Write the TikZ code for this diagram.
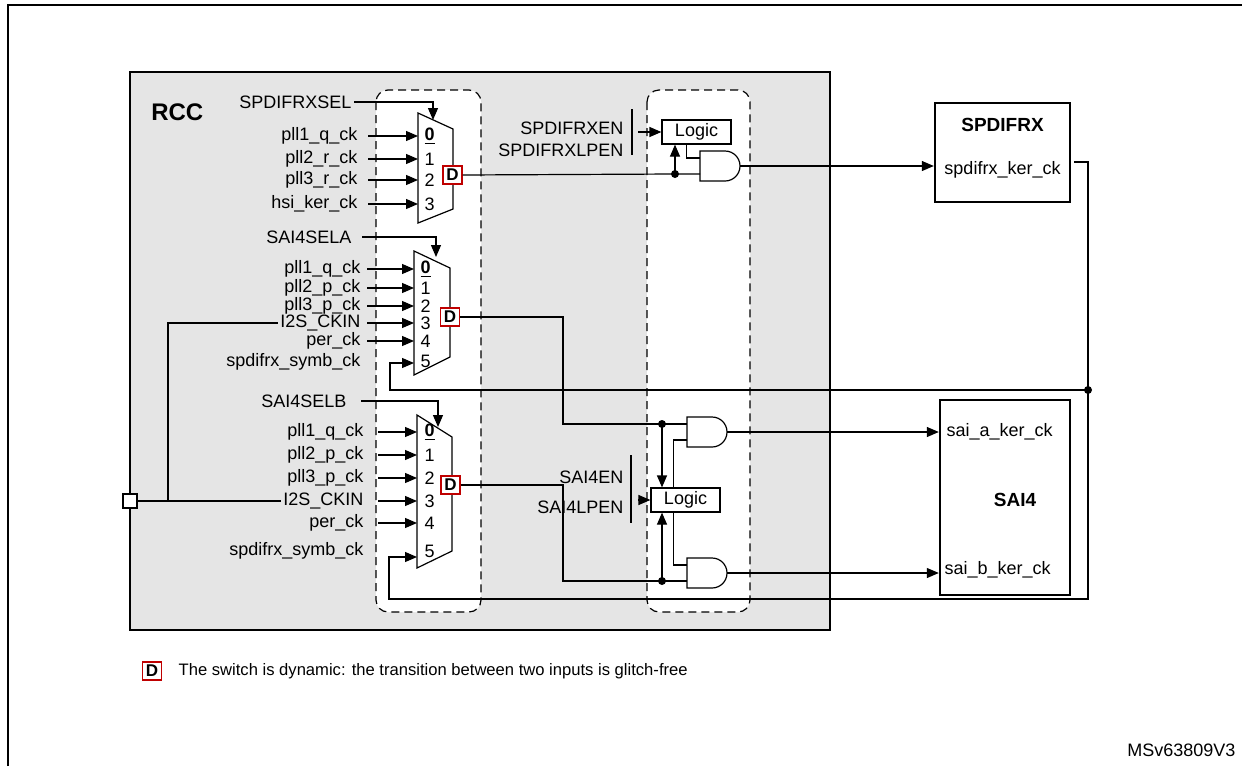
\documentclass[tikz,border=0pt]{standalone}
\usepackage{fontspec}
\setmainfont{Liberation Sans}
\usetikzlibrary{arrows.meta,positioning}
% AND gate: #1 left x, #2 centre y, #3 name
\newcommand{\andgate}[3]{%
  \draw[fill=white] (#1,#2-15) -- (#1+25,#2-15) .. controls (#1+33.3,#2-15) and (#1+40,#2-8.3) .. (#1+40,#2)
    .. controls (#1+40,#2+8.3) and (#1+33.3,#2+15) .. (#1+25,#2+15) -- (#1,#2+15) -- cycle;
  \coordinate (#3-out) at (#1+40,#2);
  \coordinate (#3-a) at (#1,#2-8);
  \coordinate (#3-b) at (#1,#2+8);}
\begin{document}
\begin{tikzpicture}[x=0.5pt, y=-0.5pt, font=\fontsize{9}{10}\selectfont, line width=0.6pt,
    lbl/.style={inner sep=1pt},
    sig/.style={-{Triangle[length=6pt,width=5pt]}},
    dyn/.style={draw=red!75!black, fill=white, font=\fontsize{8.5}{9}\selectfont\bfseries, inner sep=0pt, minimum width=9.5pt, minimum height=9pt},
    blk/.style={draw, line width=1.2pt, fill=white},
    logic/.style={draw, fill=white, minimum width=34.5pt, minimum height=12pt, inner sep=0pt},
    dashbox/.style={draw=black, dashed, dash pattern=on 4pt off 2.5pt, rounded corners=6pt, fill=white}]
\useasboundingbox (0,0) rectangle (1242,766);
\draw[line width=1pt] (8,766) -- (8,5) -- (1242,5);

% RCC block
\draw[line width=1.2pt, fill=black!10] (130,72) rectangle (830,630);
\node[font=\fontsize{12}{13}\selectfont\bfseries, anchor=west] (rcc) at (144,112) {RCC};
\draw[dashbox] (376,90) rectangle (481,612);
\draw[dashbox] (647,90) rectangle (750,612);

% mux SPDIFRX
\draw[fill=white] (418,113) -- (453,129) -- (453,209) -- (418,223) -- cycle;
\foreach \y/\t/\n [count=\k from 0] in {136/pll1\_q\_ck/\underline{\textbf{0}}, 159/pll2\_r\_ck/1, 180/pll3\_r\_ck/2, 204/hsi\_ker\_ck/3} {
  \node[lbl, anchor=east] (a\k) at (360,\y) {\t};
  \coordinate (ai\k) at (418,\y);
  \draw[sig, shorten <=4pt] (a\k.east) -- (ai\k);
  \node[lbl, anchor=west] at (422,\y) {\n};
}
\node[lbl, anchor=east] (sel1) at (354,102) {SPDIFRXSEL};
\coordinate (m1s) at (433,120);
\draw[sig] (sel1.east) -| (m1s);
\node[dyn] (d1) at (452.5,175) {D};

% mux SAI4 A
\draw[fill=white] (414,251) -- (450,268) -- (450,357) -- (414,375) -- cycle;
\foreach \y/\t/\n [count=\k from 0] in {269/pll1\_q\_ck/\underline{\textbf{0}}, 288/pll2\_p\_ck/1, 306/pll3\_p\_ck/2, 323/I2S\_CKIN/3, 341/per\_ck/4} {
  \node[lbl, anchor=east] (b\k) at (363,\y) {\t};
  \coordinate (bi\k) at (414,\y);
  \draw[sig, shorten <=2pt] (b\k.east) -- (bi\k);
  \node[lbl, anchor=west] at (418,\y) {\n};
}
\node[lbl, anchor=east] (b5) at (363,362) {spdifrx\_symb\_ck};
\node[lbl, anchor=west] at (418,361) {5};
\coordinate (bi5) at (414,363);
\node[lbl, anchor=east] (sel2) at (354,237) {SAI4SELA};
\coordinate (m2s) at (436,257);
\draw[sig, shorten <=4pt] (sel2.east) -| (m2s);
\node[dyn] (d2) at (450,317) {D};

% mux SAI4 B
\draw[fill=white] (417,415) -- (452,437) -- (452,551) -- (417,568) -- cycle;
\foreach \y/\t/\n [count=\k from 0] in {432/pll1\_q\_ck/\underline{\textbf{0}}, 455/pll2\_p\_ck/1, 478/pll3\_p\_ck/2, 501/I2S\_CKIN/3, 523/per\_ck/4} {
  \node[lbl, anchor=east] (c\k) at (366,\y) {\t};
  \coordinate (ci\k) at (417,\y);
  \draw[sig, shorten <=6pt] (c\k.east) -- (ci\k);
  \node[lbl, anchor=west] at (422,\y) {\n};
}
\node[lbl, anchor=east] (c5) at (366,551) {spdifrx\_symb\_ck};
\node[lbl, anchor=west] at (422,551) {5};
\coordinate (ci5) at (417,557);
\node[lbl, anchor=east] (sel3) at (349,401) {SAI4SELB};
\coordinate (m3s) at (438,427);
\draw[sig, shorten <=6pt] (sel3.east) -| (m3s);
\node[dyn] (d3) at (450.5,485) {D};

% I2S_CKIN pin
\node[draw, fill=white, minimum size=7pt, inner sep=0pt] (pin) at (130,501) {};
\coordinate (br) at (168,501);
\draw (pin.east) -- (c3.west);
\draw (br) |- (b3.west);

% logic + gates SPDIFRX
\node[logic] (log1) at (696.5,132) {Logic};
\node[lbl, anchor=east] (en1) at (626,128) {SPDIFRXEN};
\node[lbl, anchor=east] (lp1) at (626,150) {SPDIFRXLPEN};
\draw (632,109) -- (632,155);
\draw[sig] (638,132) -- (log1.west);
\andgate{700}{166}{g1}
\coordinate (j1) at (675,174);
\draw (d1.east) -- (j1) -- (g1-b);
\fill (j1) circle (2pt);
\draw[sig] (j1) -- (j1 |- log1.south);
\draw ([xshift=12.5pt]log1.south west) |- (g1-a);

% logic + gates SAI4
\node[logic] (log2) at (685.5,500) {Logic};
\node[lbl, anchor=east] (en2) at (626,477) {SAI4EN};
\node[lbl, anchor=east] (lp2) at (626,507) {SAI4LPEN};
\draw (631,455) -- (631,523);
\draw[sig] (638,500) -- (log2.west);
\andgate{687}{432}{ga}
\andgate{687}{573}{gb}
\coordinate (j2) at (662,424);
\coordinate (j3) at (662,581);
\draw (d2.east) -| (563,424) -- (j2) -- (ga-a);
\draw (d3.east) -| (563,581) -- (j3) -- (gb-b);
\fill (j2) circle (2pt);
\fill (j3) circle (2pt);
\draw[sig] (j2) -- (j2 |- log2.north);
\draw[sig] (j3) -- (j3 |- log2.south);
\draw (ga-b) -| ([xshift=11.5pt]log2.north west);
\draw ([xshift=11.5pt]log2.south west) |- (gb-a);

% peripherals
\node[blk, minimum width=67.5pt, minimum height=49.5pt] (spd) at (1002.5,152.5) {};
\node[font=\fontsize{9.5}{10}\selectfont\bfseries] (spdt) at (1002.5,125) {SPDIFRX};
\node[lbl] (spdk) at (1002.5,170) {spdifrx\_ker\_ck};
\node[blk, minimum width=65pt, minimum height=97.5pt] (sai) at (1005,497.5) {};
\node[font=\fontsize{9.5}{10}\selectfont\bfseries] (sait) at (1015,500) {SAI4};
\node[lbl, anchor=west] (saia) at (944,432) {sai\_a\_ker\_ck};
\node[lbl, anchor=west] (saib) at (942,570) {sai\_b\_ker\_ck};
\draw[sig] (g1-out) -- (spd.west |- g1-out);
\draw[sig] (ga-out) -- (sai.west |- ga-out);
\draw[sig] (gb-out) -- (sai.west |- gb-out);

% symbol clock feedback
\coordinate (spo) at (1074,162);
\coordinate (jr) at (1088,390);
\draw (spo) -| (jr);
\fill (jr) circle (2pt);
\draw[sig] (jr) -- (390,390) |- (bi5);
\draw[sig] (jr) -- (1088,599) -- (389,599) |- (ci5);

% legend
\node[dyn] (legd) at (152,671) {D};
\node[lbl, right=7pt of legd, font=\fontsize{8.3}{9}\selectfont] (legt) {The switch is dynamic: the transition between two inputs is glitch-free};
\node[lbl, anchor=east] (ref) at (1238,750) {MSv63809V3};
\end{tikzpicture}
\end{document}
